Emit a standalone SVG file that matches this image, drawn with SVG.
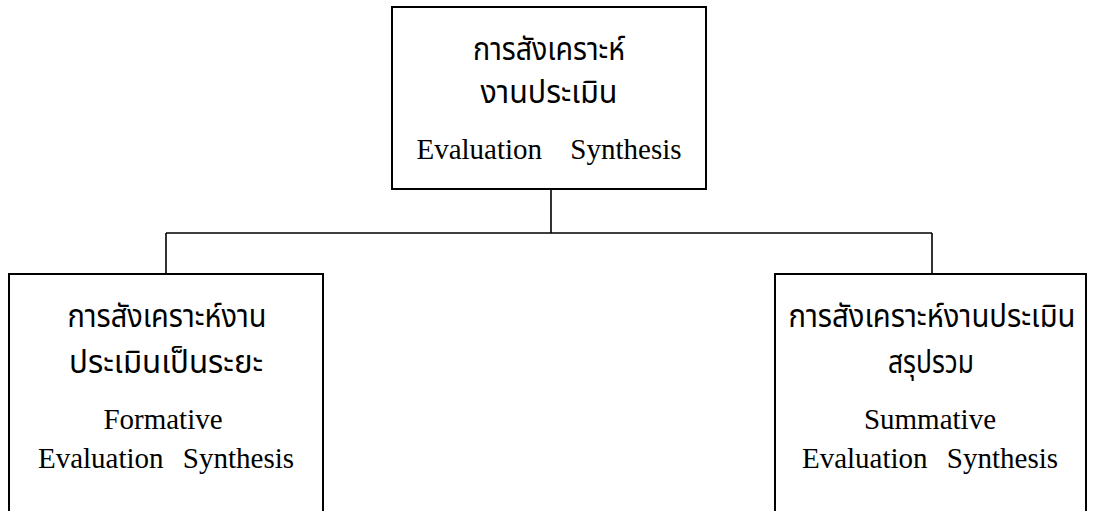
<svg xmlns="http://www.w3.org/2000/svg" width="1094" height="511" viewBox="0 0 1094 511">
<style>
.box{fill:#fff;stroke:#000;stroke-width:2}
.con{fill:none;stroke:#000;stroke-width:1.6}
.th{font-family:"Noto Sans Thai","Noto Serif Thai","Loma","Garuda","Norasi","DejaVu Sans",sans-serif;font-size:32px;fill:#000;text-anchor:middle}
.en{font-family:"Liberation Serif","Times New Roman",serif;font-size:29px;fill:#000;text-anchor:middle}
</style>
<rect width="1094" height="511" fill="#fff"/>
<g id="connectors">
<path class="con" d="M551 189 V233 M166 233 H932 M166 233 V274 M932 233 V274"/>
</g>
<g id="top">
<rect class="box" x="392" y="7" width="314" height="182"/>
<text class="th" x="549" y="60" textLength="152" lengthAdjust="spacingAndGlyphs">การสังเคราะห์</text>
<text class="th" x="549" y="103" textLength="137" lengthAdjust="spacingAndGlyphs">งานประเมิน</text>
<text class="en" x="549" y="159" word-spacing="21">Evaluation Synthesis</text>
</g>
<g id="left">
<rect class="box" x="9" y="274" width="314" height="250"/>
<text class="th" x="167" y="327" textLength="199" lengthAdjust="spacingAndGlyphs">การสังเคราะห์งาน</text>
<text class="th" x="166" y="373" textLength="194" lengthAdjust="spacingAndGlyphs">ประเมินเป็นระยะ</text>
<text class="en" x="163" y="429">Formative</text>
<text class="en" x="166" y="468" word-spacing="12">Evaluation Synthesis</text>
</g>
<g id="right">
<rect class="box" x="775" y="274" width="311" height="250"/>
<text class="th" x="932" y="327" textLength="287" lengthAdjust="spacingAndGlyphs">การสังเคราะห์งานประเมิน</text>
<text class="th" x="931" y="373" textLength="86" lengthAdjust="spacingAndGlyphs">สรุปรวม</text>
<text class="en" x="930" y="429">Summative</text>
<text class="en" x="930" y="468" word-spacing="12">Evaluation Synthesis</text>
</g>
</svg>
